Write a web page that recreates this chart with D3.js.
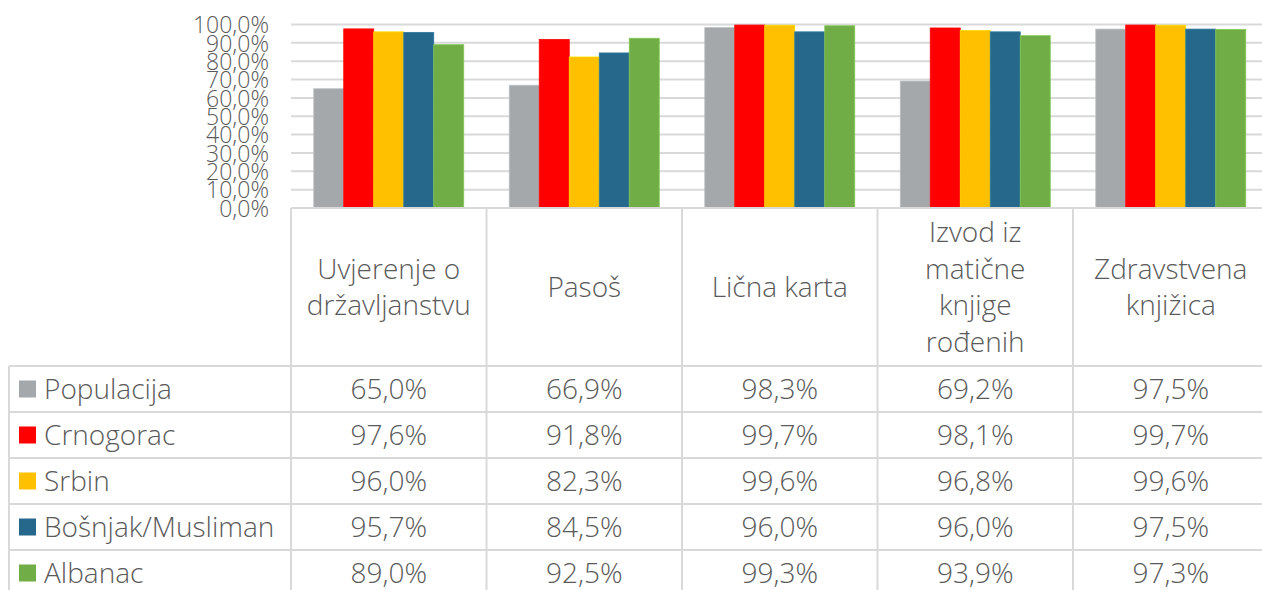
<!DOCTYPE html>
<html><head><meta charset="utf-8">
<script src="https://cdn.jsdelivr.net/npm/d3@7"></script>
<style>
body{margin:0;background:#fff;}
svg text{font-family:"Open Sans",sans-serif;font-weight:300;fill:#5a5a5a;}
</style></head>
<body><svg id="c" width="1262" height="590"></svg>
<script>
const categories = ["Uvjerenje o državljanstvu","Pasoš","Lična karta","Izvod iz matične knjige rođenih","Zdravstvena knjižica"];
const categoryLines = [["Uvjerenje o","državljanstvu"],["Pasoš"],["Lična karta"],["Izvod iz","matične","knjige","rođenih"],["Zdravstvena","knjižica"]];
const seriesNames = ["Populacija","Crnogorac","Srbin","Bošnjak/Musliman","Albanac"];
const populacija = [65.0,66.9,98.3,69.2,97.5];
const crnogorac = [97.6,91.8,99.7,98.1,99.7];
const srbin = [96.0,82.3,99.6,96.8,99.6];
const bosnjak = [95.7,84.5,96.0,96.0,97.5];
const albanac = [89.0,92.5,99.3,93.9,97.3];
const colors = ["#a5a8ab","#ff0000","#ffc000","#26688c","#70ad47"];
const yTicks = [0,10,20,30,40,50,60,70,80,90,100];

const seriesValues = [populacija,crnogorac,srbin,bosnjak,albanac];
const fmt = v => d3.format(".1f")(v).replace(".",",") + "%";

const svg = d3.select("#c");
const W = 1262, H = 590;
const plotL = 291, colW = 195.5;
const x = d3.scaleBand().domain(categories).range([plotL, plotL + colW*categories.length]).padding(0);
const xi = d3.scaleBand().domain(seriesNames).range([22.75, colW-22.75]).padding(0);
const y = d3.scaleLinear().domain([0,100]).range([208,24.5]);
const grid = "#d9d9d9";

// gridlines
svg.append("g").selectAll("line").data(yTicks.slice(1)).join("line")
  .attr("x1",plotL).attr("x2",W).attr("y1",d=>y(d)).attr("y2",d=>y(d))
  .attr("stroke",grid).attr("stroke-width",2);

// y labels
const yAxis = d3.axisLeft(y).tickValues(yTicks).tickFormat(d=>d.toFixed(1).replace(".",",")+"%").tickSize(0).tickPadding(0);
const ya = svg.append("g").attr("transform","translate(269,0)").call(yAxis);
ya.select(".domain").remove();
ya.selectAll("text").style("font-family","'Open Sans',sans-serif").style("font-weight","300")
  .style("font-size","23px").attr("fill","#5a5a5a").attr("dy","0.36em");

// bars
const gCat = svg.append("g").selectAll("g").data(categories).join("g")
  .attr("transform",d=>`translate(${x(d)},0)`);
gCat.selectAll("rect").data((c,ci)=>seriesNames.map((s,si)=>({s,si,v:seriesValues[si][ci]}))).join("rect")
  .attr("x",d=>xi(d.s)).attr("width",xi.bandwidth())
  .attr("y",d=>y(d.v)).attr("height",d=>y(0)-y(d.v))
  .attr("fill",d=>colors[d.si])
  .attr("stroke",d=>d3.color(colors[d.si]).brighter(0.4)).attr("stroke-width",0.8);

// table lines
const rowTop = 366, rowH = 46;
const tl = svg.append("g").attr("stroke",grid).attr("stroke-width",2);
tl.append("line").attr("x1",plotL).attr("x2",W).attr("y1",208).attr("y2",208);
categories.forEach(c=>{
  tl.append("line").attr("x1",x(c)).attr("x2",x(c)).attr("y1",208).attr("y2",H);
});
tl.append("line").attr("x1",9).attr("x2",9).attr("y1",rowTop).attr("y2",H);
seriesNames.forEach((s,i)=>{
  tl.append("line").attr("x1",9).attr("x2",W).attr("y1",rowTop+i*rowH).attr("y2",rowTop+i*rowH);
});

// header text
const lh = 36.5;
categories.forEach((c,ci)=>{
  const lines = categoryLines[ci];
  const cx = x(c)+colW/2, cy = 287;
  const t = svg.append("text").attr("text-anchor","middle").style("font-size","28px");
  lines.forEach((ln,li)=>{
    t.append("tspan").attr("x",cx).attr("y",cy + (li-(lines.length-1)/2)*lh + 10).text(ln);
  });
});

// rows
seriesNames.forEach((s,si)=>{
  const cy = rowTop + si*rowH + rowH/2;
  svg.append("rect").attr("x",19).attr("y",cy-8.5).attr("width",17).attr("height",17).attr("fill",colors[si]);
  svg.append("text").attr("x",44).attr("y",cy+10).style("font-size","28px").text(s);
  categories.forEach((c,ci)=>{
    svg.append("text").attr("x",x(c)+colW/2).attr("y",cy+10).attr("text-anchor","middle")
      .style("font-size","28px").text(fmt(seriesValues[si][ci]));
  });
});
</script></body></html>
